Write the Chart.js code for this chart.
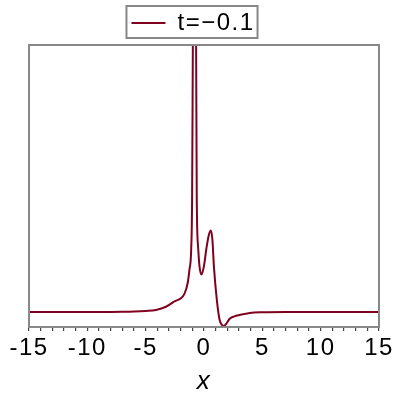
<!DOCTYPE html>
<html>
<head>
<meta charset="utf-8">
<script src="https://cdn.jsdelivr.net/npm/chart.js@4.4.1/dist/chart.umd.min.js"></script>
<style>
  html, body { margin: 0; padding: 0; background: #fff; }
  #wrap { width: 400px; height: 400px; }
</style>
</head>
<body>
<div id="wrap"><canvas id="plot" width="400" height="400"></canvas></div>
<script>
// values
const xs = [-15, -12, -10, -8, -7, -6, -5, -4.12, -3.26, -2.55, -1.68, -1.4, -1.25, -1.1, -1.02, -0.95,
            -0.8, -0.68, -0.62, -0.5, -0.39, -0.22, 0, 0.19, 0.4, 0.59, 0.72, 0.85, 1.1, 1.34, 1.55, 1.71,
            1.9, 2.2, 2.6, 3.06, 3.93, 5, 7, 10, 15];
const us = [0, 0, 0, 0, 0.003, 0.01, 0.025, 0.05, 0.13, 0.26, 0.45, 0.72, 1.05, 1.55, 2.8, 7,
            14, 7, 2.8, 1.6, 1.15, 0.93, 1.15, 1.55, 1.9, 2.03, 1.8, 1.13, 0.3, -0.2, -0.33, -0.35,
            -0.3, -0.17, -0.11, -0.075, -0.025, -0.008, 0, 0, 0];
const seriesLabel = 't=\u22120.1';
const xTicks = [-15, -10, -5, 0, 5, 10, 15];

const lineColor = '#80001f';
const frameColor = '#888888';
const font = 'Liberation Sans';

// a little letter spacing like the original plot, grey boxes round plot and legend
const framePlugin = {
    id: 'frame',
    beforeUpdate(chart) { chart.ctx.letterSpacing = '1.5px'; },
    afterLayout(chart) {
        // legend sits a bit left of centre in the original
        const lg = chart.legend;
        if (lg) { lg.left -= 11; lg.right -= 11; }
    },
    beforeDraw(chart) { chart.ctx.letterSpacing = '1.5px'; },
    afterDraw(chart) {
        const ctx = chart.ctx;
        const a = chart.chartArea;
        ctx.save();
        ctx.strokeStyle = frameColor;
        ctx.lineWidth = 2;
        ctx.strokeRect(a.left, a.top, a.right - a.left, a.bottom - a.top);
        const lg = chart.legend;
        if (lg && lg.legendHitBoxes && lg.legendHitBoxes.length) {
            const hb = lg.legendHitBoxes[0];
            ctx.strokeRect(hb.left - 5, 6, hb.width + 8, 32);
        }
        ctx.restore();
    }
};

new Chart(document.getElementById('plot').getContext('2d'), {
    type: 'line',
    data: {
        datasets: [{
            label: seriesLabel,
            data: xs.map((x, i) => ({ x: x, y: us[i] })),
            borderColor: lineColor,
            backgroundColor: lineColor,
            borderWidth: 2,
            pointRadius: 0,
            cubicInterpolationMode: 'monotone',
            fill: false
        }]
    },
    options: {
        responsive: false,
        animation: false,
        layout: { padding: { left: 29, right: 21, top: 0, bottom: 0 } },
        plugins: {
            legend: {
                display: true,
                labels: {
                    color: '#000',
                    font: { family: font, size: 24 },
                    boxWidth: 34,
                    boxHeight: 2,
                    padding: 11,
                    generateLabels: chart => [{
                        text: seriesLabel,
                        fillStyle: lineColor,
                        strokeStyle: lineColor,
                        lineWidth: 0,
                        fontColor: '#000',
                        datasetIndex: 0
                    }]
                }
            },
            tooltip: { enabled: false }
        },
        scales: {
            x: {
                type: 'linear',
                min: -15,
                max: 15,
                afterFit(scale) { scale.height = 73; },
                afterBuildTicks(scale) {
                    const t = [];
                    for (let v = -15; v <= 15; v++) t.push({ value: v });
                    scale.ticks = t;
                },
                ticks: {
                    autoSkip: false,
                    maxRotation: 0,
                    color: '#000',
                    padding: 3,
                    font: { family: font, size: 24 },
                    callback: v => xTicks.includes(v) ? (v < 0 ? '-' + Math.abs(v) : String(v)) : ''
                },
                grid: {
                    drawOnChartArea: false,
                    drawTicks: true,
                    tickLength: 4,
                    color: '#444',
                    lineWidth: 1.2
                },
                border: { display: false },
                title: {
                    display: true,
                    text: 'x',
                    color: '#000',
                    font: { family: font, size: 26, style: 'italic' },
                    padding: { top: 0, bottom: 3 }
                }
            },
            y: {
                min: -0.375,
                max: 6.65,
                afterFit(scale) { scale.width = 0; },
                ticks: { display: false },
                grid: { display: false },
                border: { display: false }
            }
        }
    },
    plugins: [framePlugin]
});
</script>
</body>
</html>
